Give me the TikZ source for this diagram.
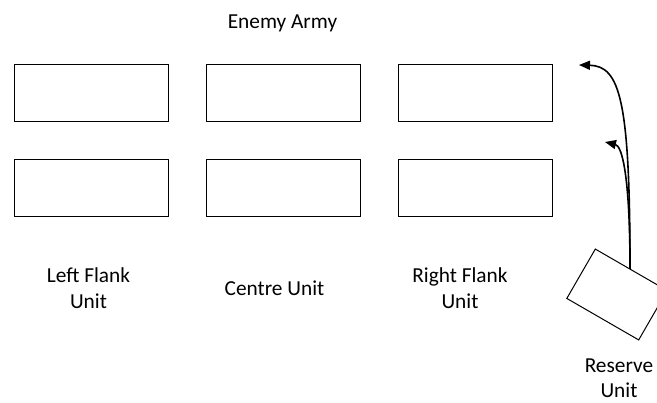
\documentclass[tikz,border=0pt]{standalone}
\usepackage{fontspec}
\setmainfont{Carlito}
\usetikzlibrary{arrows.meta}
\begin{document}
\begin{tikzpicture}[x=1pt,y=-1pt,
  unitbox/.style={draw=black,line width=1pt,minimum width=154pt,minimum height=57pt,inner sep=0pt,anchor=north west},
  lbl/.style={font=\fontsize{21.33}{25.6}\selectfont,align=center,anchor=base,inner sep=0pt},
  move/.style={line width=1.6pt,-{Triangle[length=11pt,width=9pt]}}]
\useasboundingbox (0,0) rectangle (657,403);
\begin{scope}
\clip (0,0) rectangle (657,403);
\node[unitbox] (a1) at (14,64) {};
\node[unitbox] (a2) at (206,64) {};
\node[unitbox] (a3) at (398,64) {};
\node[unitbox] (b1) at (14,159) {};
\node[unitbox] (b2) at (206,159) {};
\node[unitbox] (b3) at (398,159) {};
\node[draw=black,line width=1pt,minimum width=83pt,minimum height=57pt,inner sep=0pt,rotate=-30] (res) at (617,294.5) {};
\end{scope}
\node[lbl] (enemy) at (282.5,28.3) {Enemy Army};
\node[lbl] (lf) at (88.5,308.3) {Left Flank\\Unit};
\node[lbl] (cu) at (274.5,295.7) {Centre Unit};
\node[lbl] (rf) at (460,308.3) {Right Flank\\Unit};
\node[lbl] (ru) at (619,398) {Reserve\\Unit};
\coordinate (start) at (630,269);
\coordinate (t1) at (579,65);
\coordinate (t2) at (605,142);
\draw[move] (start) .. controls (630,100) and (620,66) .. (t1);
\draw[move] (start) .. controls (630,175) and (622,146) .. (t2);
\end{tikzpicture}
\end{document}
